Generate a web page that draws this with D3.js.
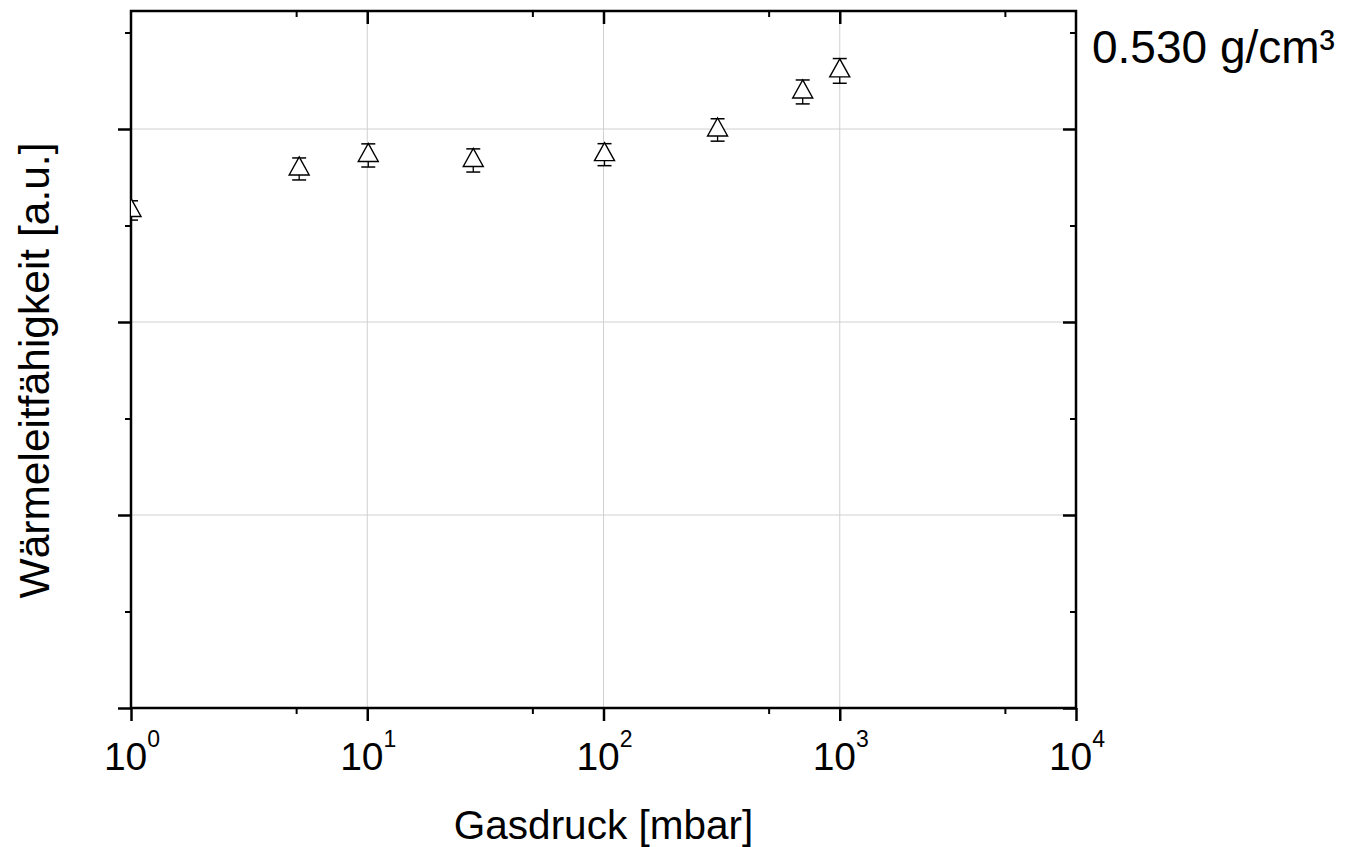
<!DOCTYPE html>
<html>
<head>
<meta charset="utf-8">
<script src="https://cdn.jsdelivr.net/npm/d3@7"></script>
<style>
  html, body { margin: 0; padding: 0; background: #fff; }
  svg { display: block; font-family: "Liberation Sans", Arial, Helvetica, sans-serif; }
</style>
</head>
<body>
<svg id="chart" width="1355" height="847"></svg>
<script>
// ---- data ----
const pressure     = [1, 5.15, 10.1, 28.1, 101, 304, 697, 1000];          // Gasdruck [mbar]
const conductivity = [2.578, 2.793, 2.863, 2.837, 2.867, 2.995, 3.192, 3.301]; // a.u.
const errors       = [0.050, 0.057, 0.060, 0.060, 0.057, 0.058, 0.062, 0.064];
const xMajorTicks  = [1, 10, 100, 1000, 10000];
const xTickExps    = ["0", "1", "2", "3", "4"];
const xMinorTicks  = [5, 50, 500, 5000];
const yMajorTicks  = [0, 1, 2, 3];
const yMinorTicks  = [0.5, 1.5, 2.5, 3.5];
const xGridTicks   = [10, 100, 1000];
const yGridTicks   = [1, 2, 3];
const xTitle = "Gasdruck [mbar]";
const yTitle = "Wärmeleitfähigkeit [a.u.]";
const densityLabel = "0.530 g/cm³";

// ---- layout ----
const L = 131, R = 1076, T = 11, B = 708;
const svg = d3.select("#chart");

const x = d3.scaleLog().domain([1, 10000]).range([L, R]);
const y = d3.scaleLinear().domain([0, 697 / 193]).range([B, T]);

// grid
const grid = svg.append("g").attr("stroke", "#d0d0d0").attr("stroke-width", 1);
grid.selectAll("line.gx").data(xGridTicks).join("line")
  .attr("x1", d => x(d)).attr("x2", d => x(d)).attr("y1", T).attr("y2", B);
grid.selectAll("line.gy").data(yGridTicks).join("line")
  .attr("x1", L).attr("x2", R).attr("y1", d => y(d)).attr("y2", d => y(d));

// axes via d3 axis generators
function styleAxis(g, w) {
  g.select(".domain").remove();
  g.selectAll(".tick line").attr("stroke", "#000").attr("stroke-width", w);
  g.selectAll(".tick text").remove();
}
const axes = [
  // bottom: outward
  [d3.axisBottom(x).tickValues(xMajorTicks).tickSize(13), `translate(0,${B})`, 2.5],
  [d3.axisBottom(x).tickValues(xMinorTicks).tickSize(6), `translate(0,${B})`, 2],
  // top: inward (pointing down)
  [d3.axisBottom(x).tickValues(xMajorTicks.slice(1, -1)).tickSize(13), `translate(0,${T})`, 2.5],
  [d3.axisBottom(x).tickValues(xMinorTicks).tickSize(6), `translate(0,${T})`, 2],
  // left: outward
  [d3.axisLeft(y).tickValues(yMajorTicks).tickSize(13), `translate(${L},0)`, 2.5],
  [d3.axisLeft(y).tickValues(yMinorTicks).tickSize(6), `translate(${L},0)`, 2],
  // right: inward (pointing left)
  [d3.axisLeft(y).tickValues(yMajorTicks).tickSize(13), `translate(${R},0)`, 2.5],
  [d3.axisLeft(y).tickValues(yMinorTicks).tickSize(6), `translate(${R},0)`, 2],
];
axes.forEach(([ax, tr, w]) => {
  svg.append("g").attr("transform", tr).call(ax).call(g => styleAxis(g, w));
});

// frame
svg.append("rect").attr("x", L).attr("y", T).attr("width", R - L).attr("height", B - T)
  .attr("fill", "none").attr("stroke", "#000").attr("stroke-width", 2.5);

// x tick labels 10^n
const lbl = svg.append("g").selectAll("text").data(xMajorTicks).join("text")
  .attr("x", d => x(d) + 1).attr("y", 770).attr("text-anchor", "middle")
  .attr("font-size", 39).attr("fill", "#000");
lbl.append("tspan").text("10");
lbl.append("tspan").attr("dy", -23).attr("font-size", 23).text((d, i) => xTickExps[i]);

// axis titles
svg.append("text").attr("x", (L + R) / 2).attr("y", 839).attr("text-anchor", "middle")
  .attr("font-size", 40.5).attr("fill", "#000").text(xTitle);
svg.append("text").attr("transform", `translate(49,${(T + B) / 2 + 11}) rotate(-90)`)
  .attr("text-anchor", "middle").attr("font-size", 42.5).attr("fill", "#000").text(yTitle);

// density label
svg.append("text").attr("x", 1092).attr("y", 63).attr("font-size", 46).attr("fill", "#000")
  .text(densityLabel);

// data points with error bars, clipped to plot
svg.append("clipPath").attr("id", "plotclip").append("rect")
  .attr("x", L).attr("y", T).attr("width", R - L).attr("height", B - T);
const pts = svg.append("g").attr("clip-path", "url(#plotclip)")
  .selectAll("g").data(pressure.map((p, i) => ({ p, v: conductivity[i], e: errors[i] })))
  .join("g").attr("transform", d => `translate(${x(d.p)},${y(d.v)})`);

pts.append("line").attr("x1", 0).attr("x2", 0)
  .attr("y1", d => y(d.v + d.e) - y(d.v)).attr("y2", d => y(d.v - d.e) - y(d.v))
  .attr("stroke", "#000").attr("stroke-width", 1.3);
pts.append("line").attr("x1", -7).attr("x2", 7)
  .attr("y1", d => y(d.v + d.e) - y(d.v)).attr("y2", d => y(d.v + d.e) - y(d.v))
  .attr("stroke", "#000").attr("stroke-width", 1.5);
pts.append("line").attr("x1", -7).attr("x2", 7)
  .attr("y1", d => y(d.v - d.e) - y(d.v)).attr("y2", d => y(d.v - d.e) - y(d.v))
  .attr("stroke", "#000").attr("stroke-width", 1.5);
pts.append("path").attr("d", "M0,-12L10,6L-10,6Z")
  .attr("fill", "#fff").attr("stroke", "#000").attr("stroke-width", 1.4)
  .attr("stroke-linejoin", "miter");
</script>
</body>
</html>
